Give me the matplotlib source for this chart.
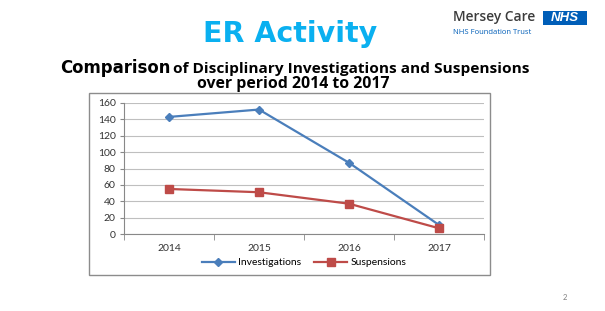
"""ER Activity slide - disciplinary investigations vs suspensions."""
import matplotlib
matplotlib.use("Agg")
import matplotlib.pyplot as plt
from matplotlib.patches import Rectangle

W, H = 605, 311

years = ["2014", "2015", "2016", "2017"]
investigations = [143, 152, 87, 11]
suspensions = [55, 51, 37, 7]
y_ticks = [0, 20, 40, 60, 80, 100, 120, 140, 160]


def fx(x):
    return x / W


def fy(y):
    return 1 - y / H


fig = plt.figure(figsize=(W / 100, H / 100), dpi=100)
fig.patch.set_facecolor("white")
renderer = fig.canvas.get_renderer()


def fit_text(x0, x1, y, s, size, **kw):
    """Put text left-aligned at x0 and scale its size so it ends near x1."""
    t = fig.text(fx(x0), fy(y), s, ha="left", va="baseline", fontsize=size, **kw)
    w = t.get_window_extent(renderer).width
    t.set_fontsize(size * (x1 - x0) / w)
    return t


# outer chart frame
fig.patches.append(Rectangle((fx(89), fy(275)), fx(490) - fx(89), fy(93) - fy(275),
                             transform=fig.transFigure, fill=False,
                             edgecolor="#8c8c8c", linewidth=1.0))

ax = fig.add_axes([fx(124), fy(234), fx(484) - fx(124), fy(103) - fy(234)])
x = list(range(len(years)))
ax.plot(x, investigations, color="#4A7EBB", marker="D", markersize=4.5,
        linewidth=1.6, label="Investigations")
ax.plot(x, suspensions, color="#BE4B48", marker="s", markersize=6,
        linewidth=1.6, label="Suspensions")

ax.set_xlim(-0.5, 3.5)
ax.set_ylim(0, 160)
ax.set_yticks(y_ticks)
ax.set_xticks(x)
ax.set_xticklabels(years)
ax.set_xticks([-0.5, 0.5, 1.5, 2.5, 3.5], minor=True)
ax.tick_params(axis="x", which="major", length=0, pad=7, labelsize=7.5, colors="#333333")
ax.tick_params(axis="x", which="minor", length=4, color="#888888", direction="out")
ax.tick_params(axis="y", length=3, color="#888888", labelsize=7.5, colors="#333333", pad=3)
ax.grid(axis="y", color="#bfbfbf", linewidth=0.8)
ax.set_axisbelow(True)
for side in ["top", "right"]:
    ax.spines[side].set_visible(False)
ax.spines["left"].set_color("#888888")
ax.spines["bottom"].set_color("#888888")
for lbl in ax.get_xticklabels() + ax.get_yticklabels():
    lbl.set_family("Lato")

ax.legend(loc="center", bbox_to_anchor=(0.5, -0.22), ncol=2, frameon=False,
          prop={"family": "Lato", "size": 7.5}, handlelength=3.2,
          columnspacing=1.2, handletextpad=0.3)

# titles
fit_text(203, 377, 42, "ER Activity", 19, fontweight="bold", color="#0AB0F0",
         family="DejaVu Sans")
fit_text(60, 170, 73, "Comparison", 11, fontweight="bold", color="black",
         family="DejaVu Sans")
fit_text(173, 528, 73, "of Disciplinary Investigations and Suspensions", 10,
         fontweight="bold", color="black", family="Open Sans")
fit_text(197, 390, 88, "over period 2014 to 2017", 10,
         fontweight="bold", color="black", family="Open Sans")

# logo
fit_text(453, 536, 21, "Mersey Care", 9.5, color="#3c3c3c",
         family="Open Sans", fontweight="semibold")
fig.patches.append(Rectangle((fx(543), fy(25)), fx(587) - fx(543), fy(11) - fy(25),
                             transform=fig.transFigure, facecolor="#005EB8",
                             edgecolor="none"))
fig.text(fx(565), fy(18), "NHS", ha="center", va="center", fontsize=9.5,
         fontweight="bold", style="italic", color="white", family="Liberation Sans")
fit_text(453, 533, 34, "NHS Foundation Trust", 5, color="#005EB8",
         family="Open Sans")

fig.text(fx(565), fy(297), "2", ha="center", va="center", fontsize=5.5,
         color="#7f7f7f", family="Lato")

fig.savefig("out.png", dpi=100, facecolor="white")
